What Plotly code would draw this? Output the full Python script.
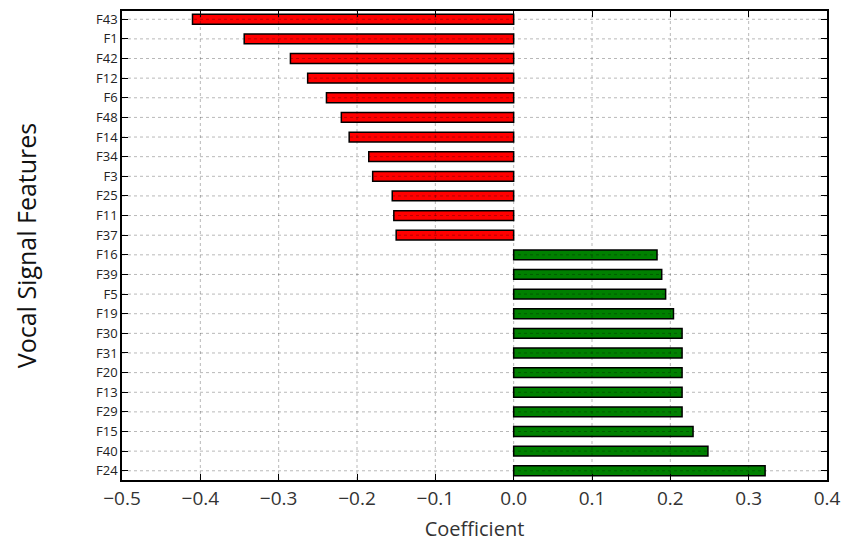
import plotly.graph_objects as go

features = ["F43", "F1", "F42", "F12", "F6", "F48", "F14", "F34", "F3", "F25", "F11", "F37",
            "F16", "F39", "F5", "F19", "F30", "F31", "F20", "F13", "F29", "F15", "F40", "F24"]
coefficients = [-0.410, -0.344, -0.285, -0.263, -0.239, -0.220, -0.210, -0.185, -0.180, -0.155, -0.153, -0.150,
                0.183, 0.189, 0.194, 0.204, 0.215, 0.215, 0.215, 0.215, 0.215, 0.229, 0.248, 0.321]
x_ticks = [-0.5, -0.4, -0.3, -0.2, -0.1, 0.0, 0.1, 0.2, 0.3, 0.4]
x_tick_text = ["\u22120.5", "\u22120.4", "\u22120.3", "\u22120.2", "\u22120.1", "0.0", "0.1", "0.2", "0.3", "0.4"]

positions = list(range(len(features)))
colors = ["#ff0000" if c < 0 else "#008000" for c in coefficients]

fig = go.Figure()
fig.add_trace(go.Bar(
    x=coefficients, y=positions, orientation="h", width=0.5,
    marker=dict(color=colors, line=dict(color="black", width=1.5)),
    showlegend=False,
))

grid = dict(color="rgba(0,0,0,0.28)", width=1, dash="3px,3px")
shapes = []
for p in positions:
    shapes.append(dict(type="line", xref="paper", x0=0, x1=1, yref="y", y0=p, y1=p,
                       line=grid, layer="above"))
for t in x_ticks[1:-1]:
    shapes.append(dict(type="line", xref="x", x0=t, x1=t, yref="paper", y0=0, y1=1,
                       line=grid, layer="above"))

fig.update_layout(
    width=849, height=546,
    margin=dict(l=122, r=16, t=9, b=65),
    paper_bgcolor="white", plot_bgcolor="white",
    shapes=shapes,
    font=dict(family="Open Sans", color="#333333"),
    xaxis=dict(
        range=[-0.5, 0.4], tickvals=x_ticks, ticktext=x_tick_text,
        tickfont=dict(size=19, color="#333333", family="Open Sans"),
        showgrid=False, zeroline=False,
        showline=True, linecolor="black", linewidth=1.5, mirror="ticks",
        ticks="inside", ticklen=6, tickcolor="black", tickwidth=1,
        title=dict(text="Coefficient", font=dict(size=20, color="#333333"), standoff=12),
    ),
    yaxis=dict(
        range=[23.47, -0.42], tickvals=positions, ticktext=features,
        tickfont=dict(size=13, color="#222222", family="Open Sans"),
        showgrid=False, zeroline=False,
        showline=True, linecolor="black", linewidth=1.5, mirror="ticks",
        ticks="inside", ticklen=6, tickcolor="black", tickwidth=1,
        title=dict(text="Vocal Signal Features", font=dict(size=25, color="#111111"), standoff=52),
    ),
)

fig.write_html("out.html")
